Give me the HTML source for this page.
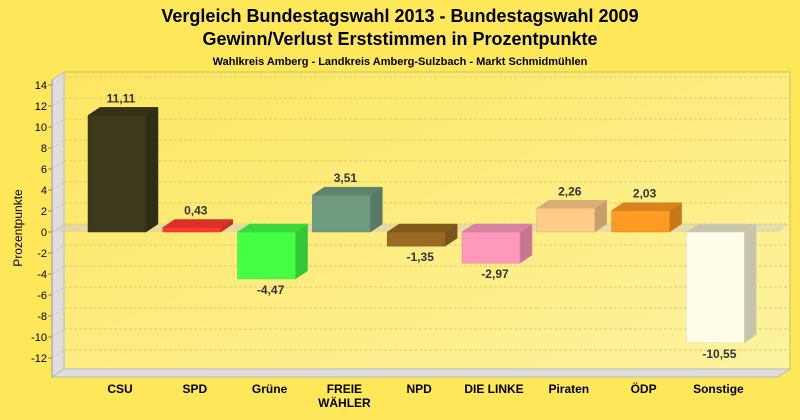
<!DOCTYPE html>
<html><head><meta charset="utf-8"><style>
body{margin:0;background:#fee85a;font-family:"Liberation Sans",sans-serif}
svg{display:block}
</style></head><body>
<svg id="c" width="800" height="420" xmlns="http://www.w3.org/2000/svg">
<defs>
<linearGradient id="pg" x1="0" y1="0" x2="1" y2="1"><stop offset="0" stop-color="#fde660"/><stop offset="1" stop-color="#fdf3a0"/></linearGradient>
</defs>
<rect width="800" height="420" fill="#fee85a"/>
<text x="400" y="22" text-anchor="middle" font-size="18" font-weight="bold" fill="#000">Vergleich Bundestagswahl 2013 - Bundestagswahl 2009</text>
<text x="400" y="45" text-anchor="middle" font-size="18" font-weight="bold" fill="#000">Gewinn/Verlust Erststimmen in Prozentpunkte</text>
<text x="400" y="65" text-anchor="middle" font-size="11" font-weight="bold" fill="#000">Wahlkreis Amberg - Landkreis Amberg-Sulzbach - Markt Schmidmühlen</text>
<text transform="translate(22,228) rotate(-90)" text-anchor="middle" font-size="12" fill="#000">Prozentpunkte</text>
<g id="plot"></g>
</svg>
<script>
const categories=["CSU","SPD","Grüne","FREIE|WÄHLER","NPD","DIE LINKE","Piraten","ÖDP","Sonstige"];
const values=[11.11,0.43,-4.47,3.51,-1.35,-2.97,2.26,2.03,-10.55];
const labels=["11,11","0,43","-4,47","3,51","-1,35","-2,97","2,26","2,03","-10,55"];
const colors=["#3d3a1c","#ff3b2f","#44ff44","#6e9a80","#9a6a22","#ff99bb","#ffcc88","#ff9a22","#fffde8"];
const ticks=[14,12,10,8,6,4,2,0,-2,-4,-6,-8,-10,-12];
const NS="http://www.w3.org/2000/svg";
const g=document.getElementById('plot');
const DX=12,DY=-8,X0=52,X1=778,YB=377,YT=80;
function y(v){return 232-v*10.5;}
function x(i){return 117+i*74.8;}
function el(t,a){const e=document.createElementNS(NS,t);for(const k in a)e.setAttribute(k,a[k]);g.appendChild(e);return e;}
function shade(c,f){const n=parseInt(c.slice(1),16);let r=n>>16,gg=n>>8&255,b=n&255;return `rgb(${Math.round(r*f)},${Math.round(gg*f)},${Math.round(b*f)})`;}
let e;
e=el('polygon',{points:`${X0+DX},${YT+DY} ${X1+DX},${YT+DY} ${X1+DX},${YB+DY} ${X0+DX},${YB+DY}`,fill:'url(#pg)',stroke:'#cbbf60'});

e=el('polygon',{points:`${X0},${YT} ${X0+DX},${YT+DY} ${X0+DX},${YB+DY} ${X0},${YB}`,fill:'#dedede',stroke:'#bbb'});

e=el('polygon',{points:`${X0},${YB} ${X0+DX},${YB+DY} ${X1+DX},${YB+DY} ${X1},${YB}`,fill:'#dedede',stroke:'#bbb'});

ticks.forEach(t=>{const yy=y(t);
 e=el('line',{x1:X0,y1:yy,x2:X0+DX,y2:yy+DY,stroke:'#ccc','stroke-dasharray':'3,2'});
 e=el('line',{x1:X0+DX,y1:yy+DY,x2:X1+DX,y2:yy+DY,stroke:'#e0d070','stroke-dasharray':'3,2'});
 e=el('line',{x1:X0-4,y1:yy,x2:X0,y2:yy,stroke:'#888'});
 e=el('text',{x:X0-5,y:yy+4,'text-anchor':'end','font-size':11,fill:'#000'});e.textContent=t;
});
e=el('line',{x1:X0,y1:YT,x2:X0,y2:YB,stroke:'#999'});
e=el('polygon',{points:`${X0},${y(0)} ${X0+DX},${y(0)+DY} ${X1+DX},${y(0)+DY} ${X1},${y(0)}`,fill:'rgba(200,200,200,0.45)'});

const W=58;
values.forEach((v,i)=>{
 const xl=x(i)-29,xr=xl+W,yt=Math.min(y(v),y(0)),yb=Math.max(y(v),y(0)),c=colors[i];
 const grp=document.createElementNS(NS,'g');g.appendChild(grp);
 
 
 const mk=(pts,f)=>{const p=document.createElementNS(NS,'polygon');p.setAttribute('points',pts);p.setAttribute('fill',f);p.setAttribute('stroke',shade(c,0.85));p.setAttribute('stroke-width','0.5');grp.appendChild(p);};
 mk(`${xl},${yt} ${xr},${yt} ${xr},${yb} ${xl},${yb}`,c);
 mk(`${xr},${yt} ${xr+DX},${yt+DY} ${xr+DX},${yb+DY} ${xr},${yb}`,v<0&&i==8?'#c8c4aa':shade(c,0.78));
 mk(`${xl},${yt} ${xl+DX},${yt+DY} ${xr+DX},${yt+DY} ${xr},${yt}`,i==8?'#c8c4aa':shade(c,0.85));
 const ly=v>=0?y(v)+DY-5:y(v)+15;
 e=el('text',{x:x(i)+4,y:ly,'text-anchor':'middle','font-size':12,'font-weight':'bold',fill:'#333'});e.textContent=labels[i];
 
 const parts=categories[i].split('|');
 parts.forEach((p,k)=>{e=el('text',{x:x(i)+3,y:393+k*14,'text-anchor':'middle','font-size':12,'font-weight':'bold',fill:'#000'});e.textContent=p;
 });
});
</script>
</body></html>
